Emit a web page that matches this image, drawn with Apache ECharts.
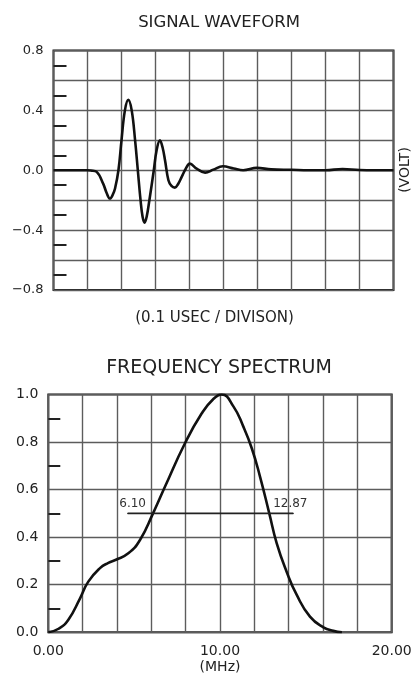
<!DOCTYPE html>
<html>
<head>
<meta charset="utf-8">
<script src="https://cdn.jsdelivr.net/npm/echarts@6/dist/echarts.min.js"></script>
<style>
html, body { margin: 0; padding: 0; background: #fff; }
#chart { width: 420px; height: 677px; }
</style>
</head>
<body>
<div id="chart"></div>
<script>
// signal waveform: x in divisions (0.1 usec each), y in volt
const waveTime = [0, 1.0, 1.1, 1.27, 1.46, 1.56, 1.66, 1.74, 1.81, 1.91, 2.0, 2.1, 2.2, 2.3, 2.4, 2.48, 2.56, 2.62, 2.68, 2.74, 2.82, 2.95, 3.03, 3.13, 3.21, 3.28, 3.38, 3.47, 3.57, 3.67, 3.77, 3.89, 4.01, 4.21, 4.46, 4.7, 4.98, 5.3, 5.58, 5.98, 6.4, 7.0, 7.5, 8.0, 8.5, 9.0, 10.0];
const waveVolt = [0, 0, -0.002, -0.011, -0.089, -0.15, -0.189, -0.165, -0.122, 0.0, 0.2, 0.4, 0.47, 0.4, 0.2, 0.0, -0.2, -0.31, -0.35, -0.31, -0.2, 0.0, 0.13, 0.2, 0.15, 0.067, -0.067, -0.105, -0.116, -0.09, -0.044, 0.01, 0.044, 0.011, -0.016, 0.004, 0.027, 0.012, 0.0, 0.016, 0.006, 0.003, 0.0, 0.0, 0.008, 0.002, 0.0];

// frequency spectrum: MHz vs normalised amplitude
const specFreq = [0, 0.6, 1.16, 1.85, 2.33, 3.01, 3.5, 3.94, 4.66, 5.34, 6.1, 6.8, 7.96, 8.93, 9.6, 10.1, 10.78, 11.36, 11.85, 12.33, 12.87, 13.3, 13.88, 14.47, 15.24, 16.02, 16.6, 17.1];
const specAmp = [0, 0.015, 0.052, 0.143, 0.213, 0.27, 0.292, 0.305, 0.332, 0.388, 0.5, 0.613, 0.795, 0.92, 0.98, 1.0, 0.95, 0.865, 0.774, 0.655, 0.5, 0.375, 0.255, 0.157, 0.066, 0.021, 0.006, 0];

// -6 dB band marker
const bandFreq = [4.62, 14.27];
const bandLevel = 0.5;
const bandLabels = ['6.10', '12.87'];

// tick labels
const waveYTicks = [-0.8, -0.4, 0, 0.4, 0.8];
const waveYLabels = ['\u22120.8', '\u22120.4', '0.0', '0.4', '0.8'];
const specXTicks = [0, 10, 20];
const specXLabels = ['0.00', '10.00', '20.00'];
const specYTicks = [0, 0.2, 0.4, 0.6, 0.8, 1.0];
const specYLabels = ['0.0', '0.2', '0.4', '0.6', '0.8', '1.0'];

const pickLabel = (ticks, labels) => v => {
  const i = ticks.findIndex(t => Math.abs(t - v) < 1e-6);
  return i < 0 ? '' : labels[i];
};

const font = 'DejaVu Sans';
const textColor = '#222';
const gridLine = { show: true, lineStyle: { color: '#5c5c5c', width: 1.4 } };
const minorTick = { show: true, splitNumber: 2, length: 13, lineStyle: { color: '#222', width: 2 } };

const chart = echarts.init(document.getElementById('chart'));
chart.setOption({
  animation: false,
  backgroundColor: '#fff',
  title: [
    {
      text: 'SIGNAL WAVEFORM',
      left: 214, top: 9, textAlign: 'center',
      textStyle: { fontFamily: font, fontSize: 16.5, fontWeight: 'normal', color: textColor }
    },
    {
      text: 'FREQUENCY SPECTRUM',
      left: 214, top: 354, textAlign: 'center',
      textStyle: { fontFamily: font, fontSize: 19, fontWeight: 'normal', color: textColor }
    }
  ],
  graphic: [
    {
      type: 'text', x: 405, y: 170, rotation: Math.PI / 2,
      style: { text: '(VOLT)', textAlign: 'center', textVerticalAlign: 'middle',
               font: '14px "DejaVu Sans"', fill: textColor }
    }
  ],
  grid: [
    { left: 53.5, top: 50.5, width: 340, height: 239.5, show: true, borderColor: '#222', borderWidth: 2, outerBoundsMode: 'none', containLabel: false },
    { left: 48.3, top: 394.5, width: 343.4, height: 237.8, show: true, borderColor: '#222', borderWidth: 2, outerBoundsMode: 'none', containLabel: false }
  ],
  xAxis: [
    {
      gridIndex: 0, type: 'value', min: 0, max: 10, interval: 1,
      axisLine: { show: false }, axisTick: { show: false }, axisLabel: { show: false },
      splitLine: gridLine,
      name: '(0.1 USEC / DIVISON)', nameLocation: 'middle', nameGap: 21,
      nameTextStyle: { fontFamily: font, fontSize: 15, color: textColor, padding: [0, 18, 0, 0] }
    },
    {
      gridIndex: 1, type: 'value', min: 0, max: 20, interval: 2,
      axisLine: { show: false }, axisTick: { show: false },
      axisLabel: { margin: 12, fontFamily: font, fontSize: 14, color: textColor, formatter: pickLabel(specXTicks, specXLabels) },
      splitLine: gridLine,
      name: '(MHz)', nameLocation: 'middle', nameGap: 28,
      nameTextStyle: { fontFamily: font, fontSize: 14, color: textColor }
    }
  ],
  yAxis: [
    {
      gridIndex: 0, type: 'value', min: -0.8, max: 0.8, interval: 0.2,
      axisLine: { show: false }, axisTick: { show: false, inside: true },
      minorTick: minorTick,
      axisLabel: { margin: 10, fontFamily: font, fontSize: 13, color: textColor, formatter: pickLabel(waveYTicks, waveYLabels) },
      splitLine: gridLine
    },
    {
      gridIndex: 1, type: 'value', min: 0, max: 1, interval: 0.2,
      axisLine: { show: false }, axisTick: { show: false, inside: true },
      minorTick: Object.assign({}, minorTick, { length: 12 }),
      axisLabel: { margin: 10, fontFamily: font, fontSize: 14, color: textColor, formatter: pickLabel(specYTicks, specYLabels) },
      splitLine: gridLine
    }
  ],
  series: [
    {
      type: 'line', xAxisIndex: 0, yAxisIndex: 0,
      data: waveTime.map((t, i) => [t, waveVolt[i]]),
      smooth: 0.4, symbol: 'none',
      lineStyle: { color: '#111', width: 2.6 }
    },
    {
      type: 'line', xAxisIndex: 1, yAxisIndex: 1,
      data: specFreq.map((f, i) => [f, specAmp[i]]),
      smooth: 0.5, symbol: 'none',
      lineStyle: { color: '#111', width: 2.6 }
    },
    {
      type: 'line', xAxisIndex: 1, yAxisIndex: 1,
      data: bandFreq.map((f, i) => ({
        value: [f, bandLevel],
        label: {
          show: true, formatter: bandLabels[i], position: 'top', distance: 3,
          offset: [i === 0 ? 5 : -3, 0],
          fontFamily: font, fontSize: 12, color: '#333'
        }
      })),
      symbol: 'circle', symbolSize: 1, showSymbol: true,
      itemStyle: { color: '#222' },
      lineStyle: { color: '#222', width: 1.6 }
    }
  ]
});
</script>
</body>
</html>
